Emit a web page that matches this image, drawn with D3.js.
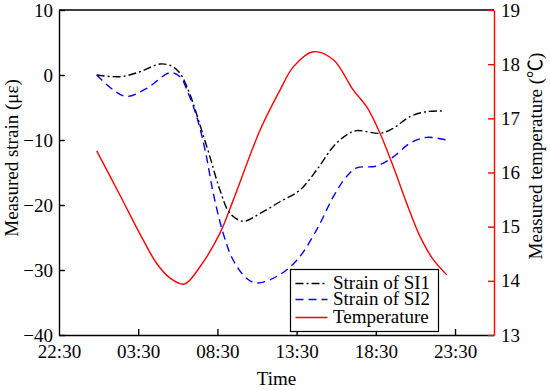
<!DOCTYPE html>
<html>
<head>
<meta charset="utf-8">
<script src="https://cdn.jsdelivr.net/npm/d3@7"></script>
<style>
  body { margin: 0; background: #fff; }
  svg text { font-family: "Liberation Serif", "Times New Roman", serif; }
  .axis text { font-size: 19px; fill: #000; }
</style>
</head>
<body>
<script>
// Time is in hours counted from 22:30
var tickHours = [0, 5, 10, 15, 20, 25];
var tickLabels = ["22:30", "03:30", "08:30", "13:30", "18:30", "23:30"];

// Strain of SI1 (dash-dot)
var si1Hours = [2.38, 3.85, 5.11, 6.38, 7.11, 7.64, 8.27, 8.90, 9.53, 10.16, 10.80, 11.64, 12.69, 13.95, 15.21, 16.27, 17.32, 18.16, 18.79, 20.27, 21.10, 22.16, 23.21, 24.16];
var si1Values = [0, -0.26, 0.5, 1.69, 1.38, 0.26, -3.0, -7.7, -12.6, -17.7, -21.3, -22.5, -21.3, -19.5, -17.7, -14.6, -11.0, -9.2, -8.56, -8.97, -8.2, -6.4, -5.64, -5.54];

// Strain of SI2 (dashed)
var si2Hours = [2.38, 3.43, 4.27, 5.54, 7.01, 7.64, 8.16, 8.69, 9.22, 9.74, 10.37, 11.00, 11.85, 12.48, 13.74, 15.01, 16.27, 17.32, 18.16, 18.79, 20.06, 21.10, 22.16, 23.21, 24.48];
var si2Values = [0, -2.3, -3.3, -2.05, 0.35, -0.26, -2.8, -6.4, -11.5, -18.2, -24.4, -28.5, -31.3, -32.0, -31.0, -28.5, -23.8, -18.7, -15.6, -14.3, -14.0, -12.6, -10.5, -9.6, -10.0];

// Temperature (right axis)
var tempHours = [2.38, 3.85, 5.32, 6.17, 7.01, 7.91, 8.90, 10.16, 11.00, 12.69, 13.95, 14.79, 16.05, 17.32, 18.58, 19.43, 20.27, 21.10, 21.95, 22.79, 23.63, 24.48];
var tempValues = [16.40, 15.58, 14.75, 14.32, 14.05, 13.94, 14.26, 14.88, 15.49, 16.78, 17.52, 17.95, 18.23, 18.08, 17.52, 17.21, 16.72, 16.11, 15.43, 14.82, 14.39, 14.11];

var legendNames = ["Strain of SI1", "Strain of SI2", "Temperature"];

var svgWidth = 550;
var svgHeight = 390;
var margin = { top: 10, right: 56, bottom: 55, left: 59 };
var chartWidth = svgWidth - margin.left - margin.right;
var chartHeight = svgHeight - margin.top - margin.bottom;

var svg = d3.select("body")
  .append("svg")
  .attr("width", svgWidth)
  .attr("height", svgHeight);

var chartGroup = svg.append("g")
  .attr("transform", `translate(${margin.left}, ${margin.top})`);

var xScale = d3.scaleLinear().domain([0, 27.46]).range([0, chartWidth]);
var yLeft = d3.scaleLinear().domain([-40, 10]).range([chartHeight, 0]);
var yRight = d3.scaleLinear().domain([13, 19]).range([chartHeight, 0]);

function toPoints(hs, vs) {
  return hs.map((h, i) => ({ h: h, v: vs[i] }));
}

var lineLeft = d3.line()
  .x(d => xScale(d.h))
  .y(d => yLeft(d.v))
  .curve(d3.curveCatmullRom);

var lineRight = d3.line()
  .x(d => xScale(d.h))
  .y(d => yRight(d.v))
  .curve(d3.curveCatmullRom);

// lines
chartGroup.append("path")
  .attr("d", lineRight(toPoints(tempHours, tempValues)))
  .attr("fill", "none").attr("stroke", "#ff0000").attr("stroke-width", 1.4);

chartGroup.append("path")
  .attr("d", lineLeft(toPoints(si1Hours, si1Values)))
  .attr("fill", "none").attr("stroke", "#000").attr("stroke-width", 1.4)
  .attr("stroke-dasharray", "8,3,2,3");

chartGroup.append("path")
  .attr("d", lineLeft(toPoints(si2Hours, si2Values)))
  .attr("fill", "none").attr("stroke", "#0000ff").attr("stroke-width", 1.4)
  .attr("stroke-dasharray", "8,5");

// top border
chartGroup.append("line")
  .attr("x1", 0).attr("x2", chartWidth).attr("y1", 0).attr("y2", 0)
  .attr("stroke", "#000").attr("stroke-width", 1.4);

// axes
var bottomAxis = d3.axisBottom(xScale)
  .tickValues(tickHours)
  .tickFormat((d, i) => tickLabels[i])
  .tickSize(-6).tickSizeOuter(0).tickPadding(10);

var leftAxis = d3.axisLeft(yLeft)
  .tickValues([-40, -30, -20, -10, 0, 10])
  .tickFormat(d3.format("d"))
  .tickSize(-6).tickSizeOuter(0).tickPadding(6);

var rightAxis = d3.axisRight(yRight)
  .tickValues([13, 14, 15, 16, 17, 18, 19])
  .tickFormat(d3.format("d"))
  .tickSize(-6).tickSizeOuter(0).tickPadding(7);

var gx = chartGroup.append("g").classed("axis", true)
  .attr("transform", `translate(0, ${chartHeight})`)
  .call(bottomAxis);
var gy = chartGroup.append("g").classed("axis", true).call(leftAxis);
var gr = chartGroup.append("g").classed("axis", true)
  .attr("transform", `translate(${chartWidth}, 0)`)
  .call(rightAxis);

[gx, gy].forEach(g => {
  g.select(".domain").attr("stroke", "#000").attr("stroke-width", 1.4);
  g.selectAll(".tick line").attr("stroke", "#000").attr("stroke-width", 1.4);
});
gr.select(".domain").attr("stroke", "#ff0000").attr("stroke-width", 1.4);
gr.selectAll(".tick line").attr("stroke", "#ff0000").attr("stroke-width", 1.4);
[gx, gy, gr].forEach(g => g.attr("font-family", null).attr("font-size", null));
gx.select(".tick").select("line").remove();

// axis titles
svg.append("text")
  .attr("x", margin.left + chartWidth / 2)
  .attr("y", 385)
  .attr("text-anchor", "middle")
  .attr("font-size", 19)
  .text("Time");

svg.append("text")
  .attr("transform", "translate(18, 158) rotate(-90)")
  .attr("text-anchor", "middle")
  .attr("font-size", 19)
  .text("Measured strain (με)");

var rightTitle = svg.append("text")
  .attr("transform", "translate(542, 156) rotate(-90)")
  .attr("text-anchor", "middle")
  .attr("font-size", 19);
rightTitle.append("tspan").text("Measured temperature (");
rightTitle.append("tspan").attr("font-family", "Noto Sans CJK SC").text("℃");
rightTitle.append("tspan").text(")");

// legend
var legend = svg.append("g").attr("transform", "translate(290.5, 269.5)");
legend.append("rect")
  .attr("width", 148).attr("height", 62)
  .attr("fill", "#fff").attr("stroke", "#000").attr("stroke-width", 1.2);

var legendStyles = [
  { color: "#000", dash: "8,3,2,3" },
  { color: "#0000ff", dash: "8,5" },
  { color: "#ff0000", dash: null }
];
var rowY = [14, 30, 48];
legendNames.forEach((name, i) => {
  legend.append("line")
    .attr("x1", 5).attr("x2", 37).attr("y1", rowY[i]).attr("y2", rowY[i])
    .attr("stroke", legendStyles[i].color).attr("stroke-width", 1.4)
    .attr("stroke-dasharray", legendStyles[i].dash);
  legend.append("text")
    .attr("x", 42.5).attr("y", rowY[i] + 5)
    .attr("font-size", 19)
    .text(name);
});
</script>
</body>
</html>
